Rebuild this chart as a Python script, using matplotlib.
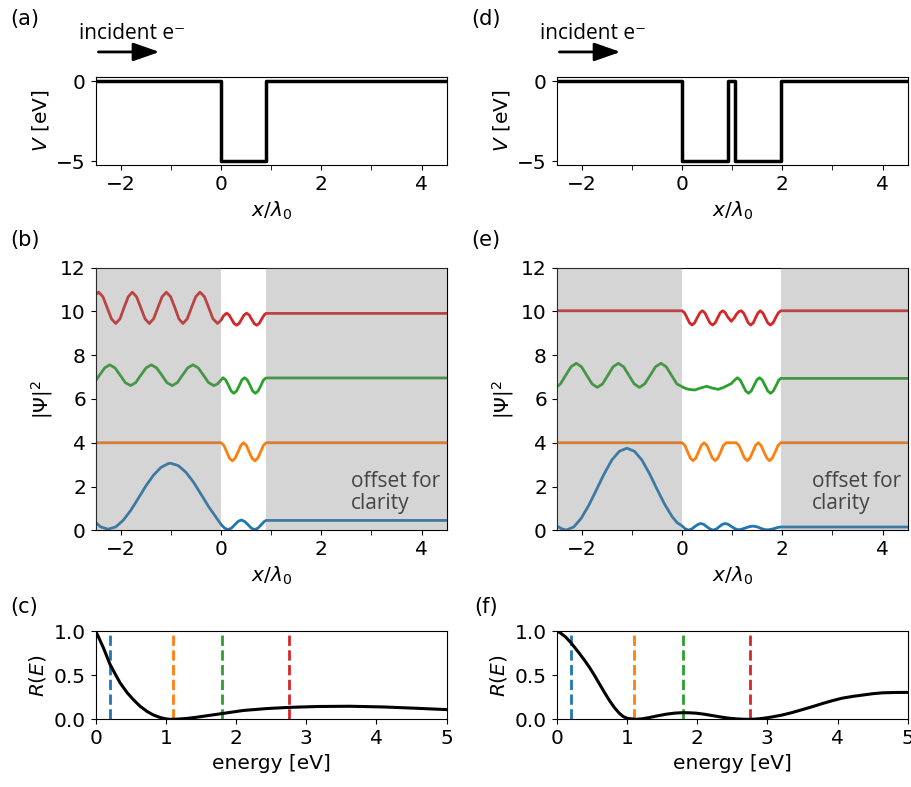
import matplotlib
matplotlib.use("Agg")
import matplotlib.pyplot as plt
from matplotlib.ticker import MultipleLocator
from matplotlib.patches import FancyArrowPatch

plt.rcParams["font.family"] = "DejaVu Sans"
plt.rcParams["font.size"] = 14.5
plt.rcParams["mathtext.fontset"] = "dejavusans"
plt.rcParams["lines.solid_joinstyle"] = "round"

### Potentials (x / lambda_0, V in eV)
pot1_x = [-2.5, 0.0, 0.0, 0.9, 0.9, 4.5]
pot1_v = [0, 0, -5, -5, 0, 0]
pot2_x = [-2.5, 0.0, 0.0, 0.91, 0.91, 1.06, 1.06, 1.97, 1.97, 4.5]
pot2_v = [0, 0, -5, -5, 0, 0, -5, -5, 0, 0]

# regions that are shaded (outside the structure)
struct1 = (0.0, 0.9)
struct2 = (0.0, 1.97)

### |Psi|^2, offsets included
blue1_x = [-2.5, -2.4, -2.25, -2.1, -1.95, -1.8, -1.65, -1.5, -1.35, -1.2, -1.05, -1.0,
           -0.85, -0.7, -0.55, -0.4, -0.25, -0.12, 0.0, 0.07, 0.14, 0.205, 0.275, 0.34,
           0.405, 0.47, 0.54, 0.605, 0.67, 0.735, 0.8, 0.865, 0.9, 4.5]
blue1_y = [0.36, 0.155, 0.05, 0.155, 0.46, 0.91, 1.46, 2.02, 2.51, 2.87, 3.05, 3.06,
           2.95, 2.65, 2.2, 1.65, 1.09, 0.66, 0.27, 0.1, 0.03, 0.095, 0.25, 0.405,
           0.47, 0.405, 0.25, 0.095, 0.03, 0.095, 0.25, 0.405, 0.45, 0.45]
orange1_x = [-2.5, 0.0, 0.056, 0.112, 0.17, 0.225, 0.28, 0.34, 0.395, 0.45, 0.505,
             0.56, 0.62, 0.675, 0.73, 0.79, 0.845, 0.9, 4.5]
orange1_y = [4.0, 4.0, 3.88, 3.585, 3.29, 3.17, 3.29, 3.585, 3.88, 4.0, 3.88,
             3.585, 3.29, 3.17, 3.29, 3.585, 3.88, 4.0, 4.0]
green1_x = [-2.5, -2.42, -2.32, -2.22, -2.115, -2.01, -1.91, -1.805, -1.7, -1.6, -1.495,
            -1.39, -1.285, -1.18, -1.08, -0.975, -0.87, -0.77, -0.665, -0.56, -0.455,
            -0.35, -0.25, -0.145, -0.07, 0.0, 0.04, 0.095, 0.15, 0.2, 0.255, 0.31, 0.365,
            0.415, 0.47, 0.525, 0.58, 0.63, 0.685, 0.74, 0.795, 0.845, 0.9, 4.5]
green1_y = [6.83, 7.1, 7.42, 7.56, 7.42, 7.085, 6.75, 6.61, 6.75, 7.085, 7.42,
            7.56, 7.42, 7.085, 6.75, 6.61, 6.75, 7.085, 7.42, 7.56, 7.42,
            7.085, 6.75, 6.61, 6.69, 6.87, 6.97, 6.865, 6.615, 6.365, 6.26, 6.365, 6.615,
            6.865, 6.97, 6.865, 6.615, 6.365, 6.26, 6.365, 6.615, 6.865, 6.96, 6.96]
red1_x = [-2.5, -2.44, -2.355, -2.27, -2.185, -2.1, -2.015, -1.935, -1.85, -1.77,
          -1.685, -1.6, -1.515, -1.43, -1.345, -1.26, -1.175, -1.09, -1.005, -0.92,
          -0.84, -0.76, -0.675, -0.59, -0.505, -0.42, -0.33, -0.245, -0.16, -0.07,
          0.0, 0.05, 0.11, 0.16, 0.21, 0.26, 0.31, 0.36, 0.41, 0.46, 0.51, 0.56, 0.61,
          0.66, 0.71, 0.76, 0.81, 0.86, 0.9, 4.5]
red1_y = [10.77, 10.88, 10.67, 10.17, 9.66, 9.45, 9.66, 10.17, 10.67, 10.88,
          10.67, 10.17, 9.66, 9.45, 9.66, 10.17, 10.67, 10.88, 10.67, 10.17,
          9.66, 9.45, 9.66, 10.17, 10.67, 10.88, 10.67, 10.17, 9.66, 9.45,
          9.6, 9.8, 9.92, 9.84, 9.645, 9.45, 9.37, 9.45, 9.645, 9.84, 9.92, 9.84, 9.645,
          9.45, 9.37, 9.45, 9.645, 9.84, 9.91, 9.91]

### |Psi|^2
blue2_x = [-2.5, -2.4, -2.31, -2.16, -2.01, -1.86, -1.705, -1.555, -1.4, -1.25, -1.1,
           -0.95, -0.8, -0.645, -0.495, -0.345, -0.2, -0.1, 0.0, 0.06, 0.13, 0.19, 0.25,
           0.315, 0.375, 0.435, 0.495, 0.56, 0.62, 0.68, 0.74, 0.8, 0.86, 0.92, 0.98,
           1.05, 1.12, 1.19, 1.27, 1.35, 1.42, 1.49, 1.56, 1.63, 1.7, 1.77, 1.84, 1.91,
           1.97, 4.5]
blue2_y = [0.2, 0.07, 0.01, 0.15, 0.55, 1.14, 1.86, 2.57, 3.21, 3.61, 3.75,
           3.61, 3.21, 2.57, 1.86, 1.18, 0.63, 0.35, 0.2, 0.07, 0.01, 0.054, 0.16,
           0.266, 0.31, 0.266, 0.16, 0.054, 0.01, 0.054, 0.16, 0.266, 0.31, 0.27, 0.18,
           0.08, 0.02, 0.05, 0.11, 0.17, 0.19, 0.16, 0.1, 0.04, 0.02, 0.04, 0.08, 0.13,
           0.15, 0.15]
orange2_x = [-2.5, 0.0, 0.055, 0.11, 0.165, 0.22, 0.275, 0.33, 0.385, 0.44, 0.495, 0.55,
             0.605, 0.66, 0.715, 0.77, 0.825, 0.88, 1.08, 1.135, 1.19, 1.245, 1.3, 1.355,
             1.41, 1.465, 1.52, 1.575, 1.63, 1.69, 1.745, 1.8, 1.86, 1.915, 1.97, 4.5]
orange2_y = [4.0, 4.0, 3.88, 3.59, 3.3, 3.18, 3.3, 3.59, 3.88, 4.0, 3.88, 3.59,
             3.3, 3.18, 3.3, 3.59, 3.88, 4.0, 4.0, 3.88, 3.59, 3.3, 3.18, 3.3,
             3.59, 3.88, 4.0, 3.88, 3.59, 3.3, 3.18, 3.3, 3.59, 3.88, 4.0, 4.0]
green2_x = [-2.5, -2.425, -2.32, -2.215, -2.11, -2.005, -1.9, -1.795, -1.69, -1.585,
            -1.48, -1.375, -1.27, -1.165, -1.06, -0.955, -0.85, -0.745, -0.635, -0.53,
            -0.42, -0.315, -0.21, -0.105, 0.0, 0.06, 0.13, 0.25, 0.37, 0.49, 0.6, 0.72,
            0.82, 0.9, 0.98, 1.05, 1.105, 1.16, 1.215, 1.27, 1.325, 1.38, 1.435, 1.49,
            1.545, 1.6, 1.655, 1.71, 1.765, 1.82, 1.875, 1.93, 1.97, 4.5]
green2_y = [6.55, 6.69, 7.08, 7.47, 7.63, 7.47, 7.08, 6.69, 6.53, 6.69,
            7.08, 7.47, 7.63, 7.47, 7.08, 6.69, 6.53, 6.69, 7.08, 7.47,
            7.63, 7.47, 7.08, 6.69, 6.56, 6.49, 6.44, 6.41, 6.5, 6.58, 6.5, 6.44,
            6.52, 6.61, 6.7, 6.865, 6.97, 6.865, 6.615, 6.365, 6.26, 6.365, 6.615, 6.865,
            6.97, 6.865, 6.615, 6.365, 6.26, 6.365, 6.615, 6.865, 6.94, 6.94]
red2_x = [-2.5, 0.0, 0.05, 0.1, 0.15, 0.2, 0.25, 0.3, 0.355, 0.405, 0.455, 0.505, 0.555,
          0.61, 0.66, 0.71, 0.76, 0.81, 0.86, 0.91, 0.98, 1.04, 1.085, 1.13, 1.18, 1.225,
          1.275, 1.32, 1.37, 1.42, 1.465, 1.515, 1.56, 1.61, 1.66, 1.71, 1.76, 1.815,
          1.865, 1.92, 1.97, 4.5]
red2_y = [10.03, 10.03, 9.935, 9.705, 9.475, 9.38, 9.475, 9.705, 9.935, 10.03, 9.935,
          9.705, 9.475, 9.38, 9.475, 9.705, 9.935, 10.03, 9.95, 9.75, 9.55, 9.7, 9.87,
          9.99, 10.03, 9.935, 9.705, 9.475, 9.38, 9.475, 9.705, 9.935, 10.03, 9.935,
          9.705, 9.475, 9.38, 9.475, 9.705, 9.935, 10.03, 10.03]

### Reflection probability R(E)
energy1 = [0, 0.03, 0.07, 0.11, 0.15, 0.2, 0.28, 0.35, 0.45, 0.54, 0.63, 0.73, 0.82,
           0.92, 1.0, 1.06, 1.18, 1.3, 1.45, 1.58, 1.8, 2.1, 2.44, 2.75, 3.15, 3.62,
           4.1, 4.57, 5.0]
refl1 = [1.0, 0.95, 0.88, 0.81, 0.73, 0.63, 0.51, 0.41, 0.3, 0.22, 0.15, 0.09, 0.05,
         0.02, 0.005, 0.0, 0.003, 0.01, 0.025, 0.04, 0.065, 0.1, 0.122, 0.135, 0.145,
         0.148, 0.14, 0.125, 0.11]
energy2 = [0, 0.05, 0.13, 0.2, 0.26, 0.32, 0.4, 0.47, 0.54, 0.61, 0.68, 0.75, 0.82,
           0.89, 0.95, 1.01, 1.13, 1.22, 1.32, 1.44, 1.56, 1.68, 1.79, 1.88, 1.98, 2.1,
           2.22, 2.34, 2.46, 2.58, 2.7, 2.82, 2.93, 3.07, 3.22, 3.36, 3.5, 3.65, 3.79,
           3.93, 4.07, 4.22, 4.36, 4.5, 4.64, 4.82, 5.0]
refl2 = [1.0, 0.98, 0.93, 0.87, 0.81, 0.75, 0.665, 0.585, 0.495, 0.4, 0.305, 0.215, 0.135,
         0.07, 0.03, 0.01, 0.0, 0.006, 0.02, 0.04, 0.058, 0.07, 0.075, 0.074, 0.07, 0.058,
         0.042, 0.026, 0.012, 0.004, 0.0, 0.002, 0.01, 0.027, 0.05, 0.078, 0.11, 0.145, 0.18,
         0.212, 0.24, 0.26, 0.275, 0.29, 0.3, 0.304, 0.305]

# energies of the four wave functions shown
e_marks = [0.2, 1.1, 1.8, 2.75]
colors = ["C0", "C1", "C2", "C3"]

### Layout (figure fractions)
col_left = [0.1049, 0.6104]
col_w = 0.3849
row_pot = (0.7903, 0.1114)
row_psi = (0.3262, 0.3337)
row_ref = (0.0860, 0.1122)

fig = plt.figure(figsize=(9.12, 7.87), dpi=100)


def xaxis_lambda(ax):
    ax.set_xlim(-2.5, 4.5)
    ax.xaxis.set_major_locator(MultipleLocator(2))
    ax.xaxis.set_minor_locator(MultipleLocator(1))
    ax.tick_params(which="minor", length=3.5)
    ax.set_xlabel(r"$x/\lambda_0$")


def make_column(i, pot_x, pot_v, struct, psi, energy, refl, labels):
    left = col_left[i]

    # potential
    ax = fig.add_axes([left, row_pot[0], col_w, row_pot[1]])
    ax.plot(pot_x, pot_v, color="k", lw=2.5)
    ax.set_ylim(-5.25, 0.25)
    ax.set_yticks([-5, 0])
    ax.set_ylabel(r"$V$ [eV]")
    xaxis_lambda(ax)

    # wave functions
    ax = fig.add_axes([left, row_psi[0], col_w, row_psi[1]])
    for (xs, ys), c in zip(psi, colors):
        ax.plot(xs, ys, color=c, lw=2)
    ax.axvspan(-2.5, struct[0], color="gray", alpha=0.33, lw=0, zorder=3)
    ax.axvspan(struct[1], 4.5, color="gray", alpha=0.33, lw=0, zorder=3)
    ax.set_ylim(0, 12)
    ax.set_yticks(range(0, 13, 2))
    ax.set_ylabel(r"|$\Psi$|$^2$")
    xaxis_lambda(ax)
    ax.text(0.727, 0.08, "offset for\nclarity", transform=ax.transAxes,
            family=["Open Sans", "DejaVu Sans"], fontsize=15, color="#444444",
            linespacing=1.05, zorder=4)

    # reflection
    ax = fig.add_axes([left, row_ref[0], col_w, row_ref[1]])
    for e, c in zip(e_marks, colors):
        ax.axvline(e, color=c, ls="--", lw=2)
    ax.plot(energy, refl, color="k", lw=2.2)
    ax.set_xlim(0, 5)
    ax.set_ylim(0, 1)
    ax.set_yticks([0, 0.5, 1.0])
    ax.set_ylabel(r"$R(E)$")
    ax.set_xlabel("energy [eV]")

    # panel letters
    x_lab = 0.027 + (col_left[i] - col_left[0])
    for y, lab in zip([0.976, 0.695, 0.229], labels):
        fig.text(x_lab, y, lab, fontsize=15, ha="center", va="center")

    # incident electron
    x0 = left - 0.018
    fig.text(x0, 0.958, "incident e\u207b", family=["Open Sans", "DejaVu Sans"],
             fontsize=15, va="center")
    arr = FancyArrowPatch((left, 0.934), (left + 0.073, 0.934),
                          transform=fig.transFigure,
                          arrowstyle="-|>,head_length=1.0,head_width=0.35",
                          mutation_scale=16, lw=2, color="k")
    fig.add_artist(arr)


make_column(0, pot1_x, pot1_v, struct1,
            [(blue1_x, blue1_y), (orange1_x, orange1_y),
             (green1_x, green1_y), (red1_x, red1_y)],
            energy1, refl1, ["(a)", "(b)", "(c)"])
make_column(1, pot2_x, pot2_v, struct2,
            [(blue2_x, blue2_y), (orange2_x, orange2_y),
             (green2_x, green2_y), (red2_x, red2_y)],
            energy2, refl2, ["(d)", "(e)", "(f)"])

fig.savefig("out.png", dpi=100)
